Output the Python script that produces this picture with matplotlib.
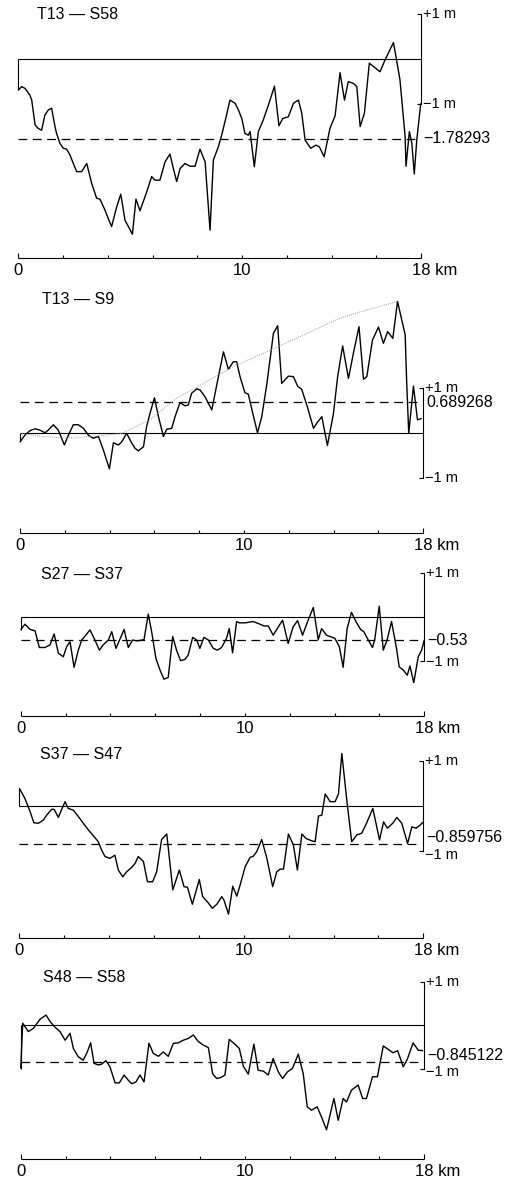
import matplotlib
matplotlib.use("Agg")
import matplotlib.pyplot as plt

plt.rcParams['font.family'] = ['Liberation Sans', 'DejaVu Sans']

# --- data: distance (km) and height (m) ---
t13_s58_km = [0, 0.15, 0.30, 0.52, 0.60, 0.75, 0.89, 1.04, 1.19, 1.34, 1.49, 1.64, 1.71, 1.86,
              2.01, 2.16, 2.31, 2.46, 2.61, 2.83, 3.06, 3.28, 3.50, 3.65, 3.87, 4.02, 4.17, 4.40,
              4.58, 4.77, 4.92, 5.10, 5.26, 5.44, 5.74, 5.96, 6.11, 6.33, 6.56, 6.78, 6.93, 7.08,
              7.23, 7.45, 7.68, 7.90, 8.12, 8.35, 8.57, 8.72, 8.94, 9.09, 9.31, 9.46, 9.69, 9.84,
              9.99, 10.13, 10.28, 10.36, 10.55, 10.73, 10.95, 11.18, 11.45, 11.65, 11.82, 12.07,
              12.30, 12.52, 12.67, 12.82, 13.07, 13.31, 13.46, 13.67, 13.93, 14.16, 14.38, 14.58,
              14.75, 14.98, 15.13, 15.28, 15.47, 15.69, 16.17, 16.39, 16.77, 17.06, 17.29, 17.33,
              17.48, 17.59, 17.70, 17.81, 17.99]
t13_s58_m = [-0.70, -0.62, -0.66, -0.81, -0.92, -1.47, -1.55, -1.59, -1.25, -1.14, -1.10, -1.51,
             -1.66, -1.88, -1.99, -2.01, -2.14, -2.33, -2.51, -2.51, -2.33, -2.77, -3.10, -3.12,
             -3.36, -3.55, -3.73, -3.29, -3.01, -3.59, -3.73, -3.90, -3.12, -3.38, -2.96, -2.62,
             -2.70, -2.70, -2.29, -2.12, -2.44, -2.73, -2.44, -2.33, -2.39, -2.39, -2.01, -2.29,
             -3.81, -2.25, -1.96, -1.70, -1.25, -0.92, -0.99, -1.14, -1.33, -1.66, -1.70, -1.62,
             -2.40, -1.62, -1.36, -1.03, -0.61, -1.49, -1.33, -1.29, -0.99, -0.92, -1.21, -1.81,
             -1.99, -1.92, -1.96, -2.18, -1.55, -1.27, -0.31, -0.92, -0.51, -0.55, -0.62, -1.51,
             -1.21, -0.10, -0.29, -0.03, 0.36, -0.47, -1.73, -2.39, -1.62, -1.88, -2.56, -1.81,
             -0.99]

t13_s9_km = [0, 0.22, 0.45, 0.67, 0.89, 1.12, 1.26, 1.49, 1.71, 1.98, 2.16, 2.38, 2.60, 2.83,
             3.05, 3.27, 3.50, 3.72, 3.99, 4.17, 4.39, 4.54, 4.76, 4.99, 5.13, 5.28, 5.51, 5.65,
             5.80, 6.00, 6.18, 6.40, 6.55, 6.77, 6.92, 7.14, 7.37, 7.51, 7.66, 7.89, 8.04, 8.26,
             8.56, 8.78, 9.08, 9.30, 9.52, 9.67, 9.82, 10.04, 10.19, 10.39, 10.60, 10.79, 11.01,
             11.31, 11.50, 11.68, 11.98, 12.20, 12.40, 12.57, 12.80, 13.10, 13.24, 13.47, 13.72,
             13.99, 14.18, 14.40, 14.66, 14.88, 15.13, 15.33, 15.48, 15.73, 16.00, 16.22, 16.41,
             16.64, 16.85, 17.19, 17.26, 17.35, 17.56, 17.74, 17.93]
t13_s9_m = [-0.19, -0.04, 0.06, 0.10, 0.07, 0.01, 0.07, 0.19, 0.07, -0.26, -0.04, 0.19, 0.19,
            0.11, -0.04, -0.11, -0.07, -0.37, -0.79, -0.21, -0.26, -0.19, 0.00, -0.22, -0.33,
            -0.39, -0.30, 0.15, 0.44, 0.79, 0.37, -0.07, 0.09, 0.11, 0.37, 0.68, 0.61, 0.63, 0.89,
            0.99, 0.96, 0.81, 0.52, 1.07, 1.81, 1.42, 1.59, 1.59, 1.26, 0.90, 0.87, 0.44, 0.01,
            0.37, 1.07, 2.22, 2.39, 1.11, 1.27, 1.26, 1.04, 0.98, 0.63, 0.11, 0.22, 0.37, -0.27,
            0.44, 1.27, 1.94, 1.22, 1.78, 2.37, 1.20, 1.26, 2.07, 2.36, 2.00, 2.26, 2.11, 2.93,
            2.19, 1.11, 0.00, 1.05, 0.30, 0.33]
# dotted envelope in the T13-S9 panel
t13_s9_env_km = [0, 1.04, 2.08, 3.27, 4.54, 5.80, 6.99, 8.18, 9.52, 11.01, 12.50, 14.29, 15.48, 16.85]
t13_s9_env_m = [0, -0.07, -0.11, -0.07, 0, 0.30, 0.78, 1.11, 1.48, 1.81, 2.15, 2.56, 2.74, 2.93]

s27_s37_km = [0, 0.19, 0.42, 0.64, 0.83, 1.08, 1.31, 1.49, 1.68, 1.90, 2.05, 2.20, 2.38, 2.57,
              2.72, 2.87, 3.09, 3.31, 3.51, 3.68, 3.91, 4.06, 4.25, 4.46, 4.61, 4.80, 4.99, 5.20,
              5.50, 5.69, 5.84, 6.03, 6.21, 6.39, 6.58, 6.78, 6.95, 7.13, 7.33, 7.47, 7.67, 7.85,
              7.99, 8.17, 8.37, 8.59, 8.77, 8.96, 9.18, 9.30, 9.45, 9.63, 9.75, 10.00, 10.37,
              10.67, 10.85, 11.04, 11.26, 11.49, 11.68, 11.93, 12.15, 12.35, 12.57, 12.82, 13.05,
              13.27, 13.42, 13.64, 13.79, 14.01, 14.21, 14.38, 14.56, 14.75, 14.95, 15.16, 15.30,
              15.50, 15.69, 15.79, 15.99, 16.17, 16.34, 16.54, 16.76, 16.88, 17.06, 17.24, 17.36,
              17.53, 17.73, 17.88, 18.0]
s27_s37_m = [-0.30, -0.17, -0.29, -0.32, -0.70, -0.70, -0.64, -0.39, -0.83, -0.91, -0.68, -0.57,
             -1.15, -0.76, -0.53, -0.44, -0.30, -0.53, -0.76, -0.64, -0.53, -0.34, -0.72, -0.47,
             -0.29, -0.70, -0.53, -0.55, -0.52, 0.06, -0.34, -0.95, -1.21, -1.42, -1.38, -0.45,
             -0.76, -1.00, -0.97, -0.87, -0.47, -0.53, -0.72, -0.47, -0.53, -0.72, -0.76, -0.70,
             -0.49, -0.27, -0.82, -0.11, -0.14, -0.14, -0.11, -0.17, -0.21, -0.21, -0.42, -0.23,
             -0.08, -0.61, -0.23, -0.09, -0.42, -0.08, 0.21, -0.52, -0.27, -0.42, -0.45, -0.49,
             -0.68, -1.15, -0.27, 0.10, -0.11, -0.29, -0.34, -0.53, -0.70, -0.52, 0.24, -0.76,
             -0.53, -0.11, -0.72, -1.14, -1.21, -1.33, -1.12, -1.50, -0.91, -0.76, -0.53]

s37_s47_km = [0, 0.25, 0.48, 0.65, 0.85, 1.07, 1.22, 1.44, 1.55, 1.74, 1.89, 2.04, 2.18, 2.41,
              2.63, 2.85, 3.08, 3.30, 3.52, 3.67, 3.82, 4.04, 4.26, 4.41, 4.61, 4.78, 5.01, 5.16,
              5.30, 5.53, 5.71, 5.94, 6.12, 6.34, 6.57, 6.84, 7.13, 7.34, 7.49, 7.71, 8.02, 8.17,
              8.42, 8.60, 8.80, 9.02, 9.12, 9.32, 9.51, 9.69, 9.84, 10.06, 10.28, 10.43, 10.58,
              10.80, 11.03, 11.29, 11.47, 11.62, 11.77, 11.99, 12.21, 12.39, 12.59, 12.78, 13.03,
              13.18, 13.33, 13.48, 13.63, 13.85, 14.07, 14.22, 14.37, 14.59, 14.81, 15.04, 15.26,
              15.48, 15.75, 16.05, 16.23, 16.40, 16.64, 16.82, 17.04, 17.30, 17.49, 17.68, 17.86,
              18.0]
s37_s47_m = [0.39, 0.16, -0.13, -0.38, -0.39, -0.32, -0.21, -0.08, -0.08, -0.26, -0.08, 0.09,
             -0.06, -0.10, -0.24, -0.39, -0.54, -0.67, -0.80, -0.99, -1.13, -1.17, -1.10, -1.43,
             -1.58, -1.47, -1.37, -1.28, -1.13, -1.24, -1.69, -1.69, -1.47, -0.75, -0.63, -1.87,
             -1.43, -1.80, -1.81, -2.19, -1.64, -2.02, -2.16, -2.28, -2.19, -2.02, -2.10, -2.41,
             -1.79, -2.01, -1.76, -1.36, -1.15, -1.12, -1.02, -0.75, -1.17, -1.80, -1.47, -1.41,
             -1.41, -0.63, -0.87, -1.43, -0.63, -0.73, -0.78, -0.80, -0.23, -0.21, 0.26, 0.09,
             0.09, 0.26, 1.16, 0.13, -0.80, -0.65, -0.61, -0.38, -0.06, -0.76, -0.36, -0.50,
             -0.39, -0.26, -0.39, -0.84, -0.47, -0.50, -0.43, -0.36]

s48_s58_km = [0, 0.09, 0.34, 0.56, 0.86, 1.13, 1.31, 1.53, 1.75, 1.98, 2.20, 2.35, 2.57, 2.79,
              2.97, 3.12, 3.27, 3.46, 3.61, 3.80, 3.98, 4.21, 4.40, 4.61, 4.80, 4.95, 5.14, 5.32,
              5.50, 5.72, 5.91, 6.14, 6.36, 6.58, 6.81, 7.03, 7.25, 7.47, 7.70, 7.92, 8.14, 8.37,
              8.56, 8.74, 8.92, 9.11, 9.30, 9.55, 9.75, 9.93, 10.15, 10.40, 10.59, 10.82, 11.04,
              11.26, 11.49, 11.68, 11.89, 12.12, 12.38, 12.60, 12.78, 12.97, 13.22, 13.42, 13.64,
              13.79, 13.97, 14.16, 14.38, 14.53, 14.75, 15.05, 15.25, 15.42, 15.69, 15.91, 16.17,
              16.39, 16.61, 16.81, 17.06, 17.24, 17.50, 17.73, 17.95]
s48_s58_m = [-1.00, 0.04, -0.15, -0.08, 0.13, 0.23, 0.08, -0.05, -0.15, -0.35, -0.19, -0.54,
             -0.73, -0.81, -0.62, -0.41, -0.88, -0.92, -0.90, -0.82, -0.96, -1.33, -1.33, -1.15,
             -1.27, -1.35, -1.31, -1.15, -1.31, -0.42, -0.65, -0.72, -0.62, -0.72, -0.42, -0.41,
             -0.35, -0.31, -0.23, -0.38, -0.46, -0.52, -1.12, -1.23, -1.21, -1.15, -0.33, -0.44,
             -0.54, -0.95, -1.13, -0.44, -1.04, -1.06, -1.15, -0.77, -1.08, -1.23, -1.08, -1.00,
             -0.67, -1.12, -1.88, -1.96, -1.88, -2.12, -2.41, -2.08, -1.69, -2.19, -1.69, -1.77,
             -1.50, -1.38, -1.69, -1.69, -1.19, -1.19, -0.48, -0.56, -0.64, -0.59, -0.96, -0.79,
             -0.41, -0.58, -0.59]

titles = ['T13 — S58', 'T13 — S9', 'S27 — S37', 'S37 — S47', 'S48 — S58']
mean_levels = [-1.78293, 0.689268, -0.53, -0.859756, -0.845122]
mean_labels = ['−1.78293', '0.689268', '−0.53', '−0.859756', '−0.845122']
km_ticks = [0, 2, 4, 6, 8, 10, 12, 14, 16, 18]

series = [(t13_s58_km, t13_s58_m), (t13_s9_km, t13_s9_m), (s27_s37_km, s27_s37_m),
          (s37_s47_km, s37_s47_m), (s48_s58_km, s48_s58_m)]

# --- layout in pixels: x of 0 km, x of 18 km, y of zero line, px per m, y of km bar ---
W, H = 514, 1180
layout = [
    dict(x0=18.3, x18=421.0, zero=58.7, pxm=45.0, bar=257.7, tx=0.82, ty=0.99, ml=0.0, m1=0.0),
    dict(x0=20.0, x18=423.3, zero=433.3, pxm=45.0, bar=533.3, tx=0.97, ty=2.98, ml=0.0, m1=0.0),
    dict(x0=20.7, x18=424.3, zero=616.7, pxm=44.0, bar=715.7, tx=0.89, ty=0.97, ml=0.0, m1=-0.03),
    dict(x0=19.3, x18=423.3, zero=805.7, pxm=45.0, bar=938.3, tx=0.92, ty=1.13, ml=0.15, m1=-0.1),
    dict(x0=20.7, x18=424.3, zero=1025.0, pxm=43.5, bar=1159.0, tx=1.00, ty=1.10, ml=0.14, m1=-0.08),
]

fig = plt.figure(figsize=(W / 100, H / 100), dpi=100)


def panel_axes(p, ylo=-5.0, yhi=3.5):
    left = p['x0'] / W
    width = (p['x18'] - p['x0']) / W
    bottom = 1 - (p['zero'] - ylo * p['pxm']) / H
    height = (yhi - ylo) * p['pxm'] / H
    ax = fig.add_axes([left, bottom, width, height])
    ax.set_xlim(0, 18)
    ax.set_ylim(ylo, yhi)
    ax.axis('off')
    return ax


for i, p in enumerate(layout):
    ax = panel_axes(p)
    km, m = series[i]
    kw = dict(color='black', clip_on=False, solid_capstyle='butt')

    # zero line with the left closing stroke
    ax.plot([0, 18], [0, 0], lw=0.8, **kw)
    ax.plot([0, 0], [0, m[0]], lw=0.8, **kw)
    # profile
    ax.plot(km, m, lw=1.0, **kw)
    # mean level
    ax.plot([0, 17.9], [mean_levels[i]] * 2, lw=0.9, linestyle=(0, (7, 4.5)),
            color='black', clip_on=False)
    if i == 1:
        ax.plot(t13_s9_env_km, t13_s9_env_m, color='#9a9a9a', lw=0.7,
                linestyle=(0, (1, 1.2)), clip_on=False)

    # right scale bracket
    ax.plot([17.82, 18, 18, 17.82], [1, 1, -1, -1], lw=0.8, **kw)
    tsz = 10.5
    ax.text(18.08, 1.0, '+1 m', fontsize=tsz, ha='left', va='center')
    ax.text(18.08, -1.0 + p['m1'], '−1 m', fontsize=tsz, ha='left', va='center')
    ax.text(18.12, mean_levels[i] + p['ml'], mean_labels[i], fontsize=11.5,
            ha='left', va='center')

    # title
    ax.text(p['tx'], p['ty'], titles[i], fontsize=11.5, ha='left', va='center')

    # km bar
    bar_m = -(p['bar'] - p['zero']) / p['pxm']
    ax.plot([0, 18], [bar_m, bar_m], lw=0.8, **kw)
    tick_h = 3.0 / p['pxm']
    ax.vlines(km_ticks[1:-1], bar_m, bar_m + tick_h, color='black', lw=0.8, clip_on=False)
    ax.vlines([0, 18], bar_m, bar_m + 1.7 * tick_h, color='black', lw=0.8, clip_on=False)
    lab_y = bar_m - 12.5 / p['pxm']
    ax.text(0, lab_y, '0', fontsize=12, ha='center', va='center')
    ax.text(10, lab_y, '10', fontsize=12, ha='center', va='center')
    ax.text(17.6, lab_y, '18 km', fontsize=12, ha='left', va='center')

fig.savefig('out.png', dpi=100, facecolor='white')
